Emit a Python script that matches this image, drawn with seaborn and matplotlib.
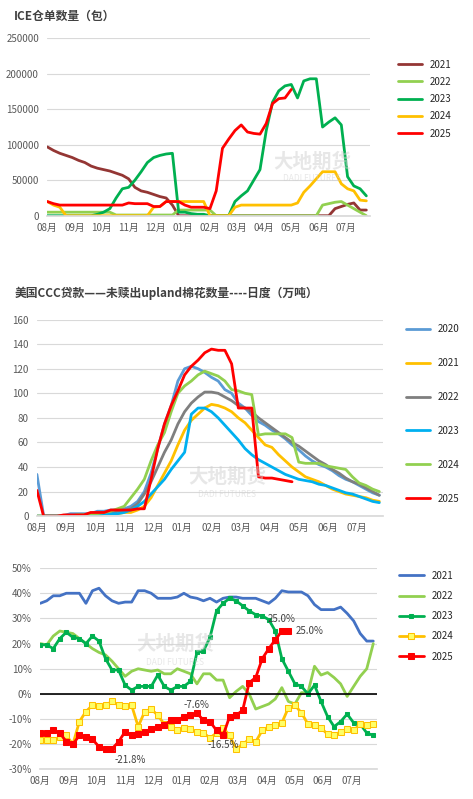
import numpy as np
import pandas as pd
import matplotlib
matplotlib.use("Agg")
import matplotlib.pyplot as plt
import seaborn as sns

sns.set_theme(style="white")
plt.rcParams['font.family'] = ['Noto Sans CJK SC', 'DejaVu Sans']
plt.rcParams['axes.unicode_minus'] = False

month_labels = ["08月", "09月", "10月", "11月", "12月", "01月", "02月",
                "03月", "04月", "05月", "06月", "07月"]
nan = np.nan

# ICE warehouse stocks (bales), weekly
ice_years = ["2021", "2022", "2023", "2024", "2025"]
ice_2021 = [97, 92, 88, 85, 82, 78, 75, 70, 67, 65, 63, 60, 57, 52, 40, 35, 33, 30, 27, 25, 15, 0,
            0, 0, 0, 0, 0, 0, 0, 0, 0, 0, 0, 0, 0, 0, 0, 0, 0, 0, 0, 0, 0, 0, 0, 0,
            10, 13, 16, 18, 8, 8]
ice_2022 = [5, 5, 5, 5, 5, 5, 5, 5, 5, 5, 5, 1, 1, 1, 1, 1, 1, 1, 1, 1, 1, 8,
            8, 8, 8, 8, 8, 0, 0, 0, 0, 0, 0, 0, 0, 0, 0, 0, 0, 0, 0, 0, 0, 0,
            15, 17, 19, 20, 15, 10, 5, 0]
ice_2023 = [0, 0, 0, 0, 0, 0, 0, 0, 2, 5, 10, 25, 38, 40, 50, 62, 75, 82, 85, 87, 88, 5,
            5, 3, 2, 2, 0, 0, 0, 0, 20, 28, 35, 50, 65, 120, 160, 176, 183, 185, 166, 190,
            193, 193, 125, 132, 138, 128, 55, 42, 38, 28]
ice_2024 = [20, 15, 12, 0, 0, 0, 0, 0, 0, 0, 0, 0, 0, 0, 0, 0, 0, 12, 13, 20, 20, 20,
            20, 20, 20, 20, 0, 0, 0, 0, 12, 15, 15, 15, 15, 15, 15, 15, 15, 15, 18, 33,
            42, 52, 62, 62, 62, 45, 38, 35, 22, 21]
ice_2025 = [20, 17, 15, 15, 15, 15, 15, 15, 15, 15, 15, 15, 15, 18, 17, 17, 17, 13, 13, 20, 20, 20,
            15, 12, 12, 12, 10, 35, 95, 108, 120, 128, 118, 116, 115, 130, 158, 165, 166, 178,
            nan, nan, nan, nan, nan, nan, nan, nan, nan, nan, nan, nan]
ice_colors = ["#943634", "#92D050", "#00B050", "#FFC000", "#FF0000"]

# CCC loans outstanding (10k tons)
ccc_years = ["2020", "2021", "2022", "2023", "2024", "2025"]
ccc_2020 = [34, 0.5, 0.5, 0.5, 0.5, 2, 2, 2, 2, 4, 4, 5, 5, 6, 8, 12, 20, 35, 55, 75, 90, 110,
            120, 122, 120, 117, 113, 110, 103, 100, 92, 88, 82, 77, 74, 70, 67, 63, 58, 54, 49, 45,
            42, 40, 37, 33, 30, 28, 25, 22, 19, 17]
ccc_2021 = [0, 0, 0, 0, 0, 0, 1, 1, 1, 1, 2, 2, 2, 3, 3, 5, 8, 15, 25, 35, 45, 58,
            70, 78, 83, 88, 91, 90, 88, 85, 80, 76, 70, 64, 58, 56, 50, 45, 40, 36, 32, 30,
            28, 25, 22, 20, 18, 17, 16, 15, 13, 12]
ccc_2022 = [0, 0, 0, 0, 0, 0, 1, 1, 1, 2, 2, 2, 4, 4, 6, 10, 18, 28, 40, 52, 62, 75,
            85, 92, 97, 101, 101, 100, 97, 94, 90, 88, 85, 80, 76, 72, 68, 64, 60, 57, 53, 49,
            45, 42, 38, 35, 31, 28, 26, 23, 20, 17]
ccc_2023 = [0, 0, 0, 0, 0, 0, 1, 1, 1, 1, 2, 2, 2, 3, 5, 8, 12, 18, 24, 30, 38, 45,
            52, 83, 88, 88, 85, 80, 74, 68, 62, 55, 50, 46, 43, 40, 37, 34, 32, 30, 29, 28,
            26, 25, 23, 21, 19, 18, 16, 14, 12, 11]
ccc_2024 = [0, 0, 0, 0, 0, 0, 1, 1, 2, 2, 3, 4, 6, 8, 15, 22, 30, 45, 58, 68, 85, 100,
            106, 110, 115, 118, 116, 114, 110, 103, 102, 100, 99, 66, 67, 67, 67, 67, 64, 44, 43, 43,
            43, 41, 40, 39, 38, 32, 27, 25, 22, 20]
ccc_2025 = [21, 0, 0, 0, 1, 1, 1, 1, 3, 3, 3, 5, 5, 5, 5, 6, 6, 30, 55, 75, 90, 102,
            115, 122, 127, 133, 136, 135, 135, 124, 88, 88, 88, 32, 31, 31, 30, 29, 28,
            nan, nan, nan, nan, nan, nan, nan, nan, nan, nan, nan, nan, nan]
ccc_colors = ["#5B9BD5", "#FFC000", "#7F7F7F", "#00B0F0", "#92D050", "#FF0000"]

# percentage series
pct_years = ["2021", "2022", "2023", "2024", "2025"]
pct_2021 = [36, 37, 39, 39, 40, 40, 40, 36, 41, 42, 39, 37, 36, 36.5, 36.5, 41, 41, 40, 38, 38, 38, 38.5,
            40, 38.5, 38, 37, 38, 36.5, 38, 38.5, 38.5, 38, 38, 38, 37, 36, 38, 41, 40.5, 40.5, 40.5, 39,
            35.5, 33.5, 33.5, 33.5, 34.5, 32, 29, 24, 21, 21]
pct_2022 = [20, 19.5, 23, 25, 24.5, 24, 22, 20, 18, 16.5, 15.5, 13, 10, 7, 9, 10, 9.5, 9, 9.5, 8, 8, 10,
            9, 8, 4, 8, 8, 5.5, 5.5, -1.5, 1, 3, 0, -6, -5, -4, -2, 2.5, -3, -4, 0.5, 0.5,
            11, 7.5, 8.5, 6.5, 4, -1, 3, 7, 10, 20]
pct_2023 = [19.5, 19.5, 18, 22, 24.5, 22.5, 22, 20, 23, 21, 14, 9.5, 9.5, 3.5, 1.5, 3, 3, 3, 7.5, 3, 1.5, 3,
            3, 5, 16.5, 17, 22.5, 33, 36, 38, 37, 35, 33, 31.5, 31, 29.5, 25, 14, 9, 4, 3, 0,
            3.5, -3, -9, -13, -11, -8, -11.5, -12, -15.5, -16.5]
pct_2024 = [-18.5, -18.5, -18.5, -17, -16.5, -20, -11, -7, -4.5, -4.7, -4.5, -3, -4.5, -4.7, -4.5, -13, -7, -6,
            -8.5, -12, -13, -14.5, -13.5, -14, -15, -15.5, -17.5, -15.5, -13.5, -16.5, -22, -20, -18, -19,
            -14.5, -13, -12.5, -11.5, -5.5, -4.5, -7.5, -12, -12.5, -13.5, -16, -16.5, -15, -14, -14.5,
            -12, -12.5, -12]
pct_2025 = [-15.5, -15.5, -14.5, -15.5, -19, -20, -16.5, -17, -18, -21, -22, -21.8, -19, -15, -16.5, -16,
            -15, -14, -13, -12.5, -10.5, -10.5, -9, -8.5, -7.6, -10.5, -11, -14.5, -16.5, -9, -8.5, -6.5,
            4.5, 6.5, 14, 18, 21.5, 25, 25]
pct_colors = ["#4472C4", "#92D050", "#00B050", "#FFC000", "#FF0000"]

wk_per_month = 52 / 12.0


def xs(n):
    return np.arange(n) / wk_per_month


def style_axis(ax, ymin, ymax, step, fmt):
    ax.set_xlim(0, 11.9)
    ax.set_ylim(ymin, ymax)
    ax.set_yticks(np.arange(ymin, ymax + 0.1, step))
    ax.set_yticklabels([fmt(v) for v in np.arange(ymin, ymax + 0.1, step)], fontsize=7, color="#595959")
    ax.set_xticks(range(12))
    ax.set_xticklabels(month_labels, fontsize=7, color="#595959")
    ax.grid(axis="y", color="#D9D9D9", lw=0.8)
    for s in ["top", "right", "left"]:
        ax.spines[s].set_visible(False)
    ax.spines["bottom"].set_color("#D9D9D9")
    ax.tick_params(axis="y", length=0, pad=6)
    ax.tick_params(axis="x", length=0, pad=5)
    ax.set_xlabel("")
    ax.set_ylabel("")


def watermark(ax, x, y):
    ax.text(x, y, "大地期货", transform=ax.transAxes, fontsize=14, color="#D0D0D0",
            alpha=0.5, ha="center", va="center", fontweight="bold")
    ax.text(x, y - 0.09, "DADI FUTURES", transform=ax.transAxes, fontsize=6, color="#D0D0D0",
            alpha=0.5, ha="center", va="center")


fig = plt.figure(figsize=(4.73, 7.99), dpi=100)

# panel 1
ax1 = fig.add_axes([0.1, 0.73, 0.682, 0.222])
for yr, vals, c in zip(ice_years, [ice_2021, ice_2022, ice_2023, ice_2024, ice_2025], ice_colors):
    v = np.array(vals, dtype=float) * 1000
    sns.lineplot(x=xs(len(v)), y=v, ax=ax1, color=c, lw=2, label=yr)
style_axis(ax1, 0, 250000, 50000, lambda v: f"{int(v)}")
ax1.legend(loc="upper left", bbox_to_anchor=(1.06, 0.93), frameon=False, fontsize=7,
           handlelength=2.5, labelspacing=0.75)
watermark(ax1, 0.82, 0.3)
fig.text(0.03, 0.975, "ICE仓单数量（包）", fontsize=8.5, fontweight="bold", color="#404040")

# panel 2
ax2 = fig.add_axes([0.078, 0.354, 0.732, 0.246])
for yr, vals, c in zip(ccc_years, [ccc_2020, ccc_2021, ccc_2022, ccc_2023, ccc_2024, ccc_2025], ccc_colors):
    v = np.array(vals, dtype=float)
    sns.lineplot(x=xs(len(v)), y=v, ax=ax2, color=c, lw=2, label=yr)
style_axis(ax2, 0, 160, 20, lambda v: f"{int(v)}")
ax2.legend(loc="upper left", bbox_to_anchor=(1.04, 1.02), frameon=False, fontsize=7,
           handlelength=2.5, labelspacing=2.45)
watermark(ax2, 0.55, 0.2)
fig.text(0.03, 0.628, "美国CCC贷款——未赎出upland棉花数量----日度（万吨）", fontsize=8.5,
         fontweight="bold", color="#404040")

# panel 3
ax3 = fig.add_axes([0.085, 0.037, 0.712, 0.252])
pct_styles = [
    dict(marker=None),
    dict(marker=None),
    dict(marker="s", markersize=3, markeredgecolor="#00B050"),
    dict(marker="s", markersize=5, markerfacecolor="#FFFF66", markeredgecolor="#FFC000"),
    dict(marker="s", markersize=5, markeredgecolor="#FF0000"),
]
for yr, vals, c, st in zip(pct_years, [pct_2021, pct_2022, pct_2023, pct_2024, pct_2025], pct_colors, pct_styles):
    v = np.array(vals, dtype=float)
    sns.lineplot(x=xs(len(v)), y=v, ax=ax3, color=c, lw=2, label=yr, **st)
ax3.axhline(0, color="black", lw=1.2)
style_axis(ax3, -30, 50, 10, lambda v: f"{int(v)}%")
ax3.legend(loc="upper left", bbox_to_anchor=(1.04, 1.03), frameon=False, fontsize=7,
           handlelength=2.5, labelspacing=1.05)
watermark(ax3, 0.4, 0.62)
x25 = xs(len(pct_2025))
ax3.annotate("-21.8%", xy=(x25[11], pct_2025[11]), xytext=(x25[11] + 0.1, -27.5),
             fontsize=7, color="#404040", arrowprops=dict(arrowstyle="-", color="#7F7F7F", lw=0.6))
ax3.text(x25[24], -5.5, "-7.6%", fontsize=7, color="#404040", ha="center")
ax3.text(x25[28], -21.5, "-16.5%", fontsize=7, color="#404040", ha="center")
ax3.text(x25[37], 28.5, "25.0%", fontsize=7, color="#404040", ha="center")
ax3.text(x25[38] + 0.25, 24, "25.0%", fontsize=7, color="#404040")

fig.savefig("out.png", dpi=100)
